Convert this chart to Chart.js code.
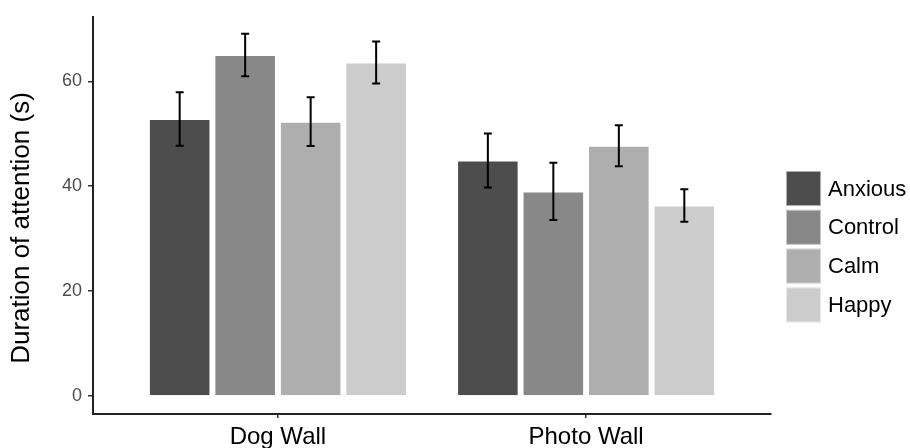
<!DOCTYPE html>
<html>
<head>
<meta charset="utf-8">
<script src="https://cdn.jsdelivr.net/npm/chart.js@4/dist/chart.umd.min.js"></script>
<style>
  html, body { margin: 0; padding: 0; background: #ffffff; }
  #wrap { width: 910px; height: 448px; }
</style>
</head>
<body>
<div id="wrap"><canvas id="chart" width="910" height="448"></canvas></div>
<script>
// Mean duration of attention (s) per condition, with error-bar half-widths
const groups = ['Dog Wall', 'Photo Wall'];
const conditions = ['Anxious', 'Control', 'Calm', 'Happy'];

const anxiousMean = [52.8, 44.9];
const controlMean = [65.0, 39.0];
const calmMean    = [52.3, 47.7];
const happyMean   = [63.6, 36.3];

const anxiousErr = [5.1, 5.15];
const controlErr = [4.05, 5.45];
const calmErr    = [4.65, 3.9];
const happyErr   = [4.0, 3.1];

const yTickValues = [0, 20, 40, 60];
const yTitle = 'Duration of attention (s)';

const means = [anxiousMean, controlMean, calmMean, happyMean];
const errs  = [anxiousErr, controlErr, calmErr, happyErr];
const fills = ['#4d4d4d', '#888888', '#aeaeae', '#cccccc'];

const FONT = '"Liberation Sans", Arial, sans-serif';

const datasets = conditions.map((name, i) => ({
  label: name,
  data: means[i].map((v, g) => ({ x: g + 1, y: v })),
  errors: errs[i],
  backgroundColor: fills[i],
  borderColor: 'rgba(255,255,255,0.55)',
  borderWidth: 1,
  categoryPercentage: 0.85,
  barPercentage: 0.94
}));

// Draws mean ± error whiskers on top of each bar
const errorBars = {
  id: 'errorBars',
  afterDatasetsDraw(chart) {
    const ctx = chart.ctx;
    const y = chart.scales.y;
    ctx.save();
    ctx.strokeStyle = '#000000';
    ctx.lineWidth = 2;
    chart.data.datasets.forEach((ds, di) => {
      const meta = chart.getDatasetMeta(di);
      meta.data.forEach((bar, i) => {
        const m = ds.data[i].y, e = ds.errors[i];
        const top = y.getPixelForValue(m + e);
        const bot = y.getPixelForValue(m - e);
        const cx = bar.x, cap = 4;
        ctx.beginPath();
        ctx.moveTo(cx, top); ctx.lineTo(cx, bot);
        ctx.moveTo(cx - cap, top); ctx.lineTo(cx + cap, top);
        ctx.moveTo(cx - cap, bot); ctx.lineTo(cx + cap, bot);
        ctx.stroke();
      });
    });
    ctx.restore();
  }
};

// Rotated y-axis title and the fill-key legend at the right of the panel
const annotations = {
  id: 'annotations',
  afterDraw(chart) {
    const ctx = chart.ctx;
    ctx.save();
    ctx.translate(22, 228);
    ctx.rotate(-Math.PI / 2);
    ctx.font = '26px ' + FONT;
    ctx.fillStyle = '#000000';
    ctx.textAlign = 'center';
    ctx.textBaseline = 'middle';
    ctx.fillText(yTitle, 0, 0);
    ctx.restore();

    const x0 = 786, y0 = 171, size = 35, step = 38.8;
    ctx.save();
    ctx.font = '22px ' + FONT;
    ctx.textBaseline = 'middle';
    ctx.textAlign = 'left';
    chart.data.datasets.forEach((ds, i) => {
      const ky = y0 + i * step;
      ctx.fillStyle = ds.backgroundColor;
      ctx.fillRect(x0, ky, size, size);
      ctx.strokeStyle = 'rgba(255,255,255,0.55)';
      ctx.lineWidth = 1;
      ctx.strokeRect(x0 + 0.5, ky + 0.5, size - 1, size - 1);
      ctx.fillStyle = '#000000';
      ctx.fillText(ds.label, 828, ky + size / 2 + 1);
    });
    ctx.restore();
  }
};

new Chart(document.getElementById('chart'), {
  type: 'bar',
  data: { datasets },
  options: {
    responsive: false,
    animation: false,
    events: [],
    layout: { padding: { left: 0, top: 13, right: 139, bottom: 0 } },
    plugins: {
      legend: { display: false },
      tooltip: { enabled: false }
    },
    scales: {
      x: {
        type: 'linear',
        offset: false,
        min: 0.4,
        max: 2.6,
        afterBuildTicks(scale) { scale.ticks = groups.map((_, g) => ({ value: g + 1 })); },
        afterFit(scale) { scale.height = 34; },
        grid: { offset: false, drawOnChartArea: false, drawTicks: true, tickLength: 4, color: '#333333', lineWidth: 1.5 },
        border: { display: true, color: '#222222', width: 2 },
        ticks: {
          color: '#000000',
          font: { family: FONT, size: 24 },
          padding: 5,
          maxRotation: 0,
          autoSkip: false,
          callback: (v) => groups[Math.round(v) - 1] || ''
        }
      },
      y: {
        min: -3.45,
        max: 72.3,
        afterBuildTicks(scale) { scale.ticks = yTickValues.map(v => ({ value: v })); },
        afterFit(scale) { scale.width = 93; },
        grid: { drawOnChartArea: false, drawTicks: true, tickLength: 5, color: '#333333', lineWidth: 1.5 },
        border: { display: true, color: '#222222', width: 2 },
        ticks: {
          color: '#4d4d4d',
          font: { family: FONT, size: 18 },
          padding: 6
        }
      }
    }
  },
  plugins: [errorBars, annotations]
});
</script>
</body>
</html>
